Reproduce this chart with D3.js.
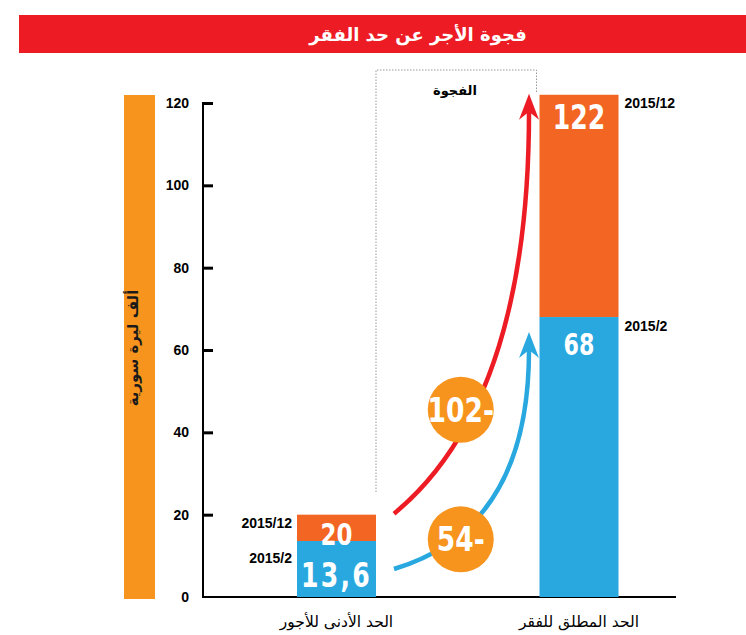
<!DOCTYPE html>
<html>
<head>
<meta charset="utf-8">
<script src="https://cdn.jsdelivr.net/npm/d3@7"></script>
<style>
  body { margin: 0; background: #fff; }
  .ar { font-family: "DejaVu Sans", sans-serif; }
  .num { font-family: "DejaVu Sans", sans-serif; font-weight: bold; }
  .lab { font-family: "Liberation Sans", Arial, sans-serif; font-weight: bold; }
</style>
</head>
<body>
<svg class="chart"></svg>
<script>
// wage gap vs poverty line, two dates

var categories = ["الحد الأدنى للأجور", "الحد المطلق للفقر"];
var feb2015 = [13.6, 68];
var dec2015 = [20, 122];
var febLabels = ["13,6", "68"];
var decLabels = ["20", "122"];
var gapLabels = ["54-", "102-"];
var dateLabels = ["2015/12", "2015/2"];
var yTicks = [0, 20, 40, 60, 80, 100, 120];

var ui = {
  width: 746,
  height: 635,
  red: "#ED1C24",
  orange: "#F26522",
  blue: "#29A8E0",
  circle: "#F7941D",
  barWidth: 79,
  squeeze: 0.74
};

var chart = d3.select(".chart")
  .attr("width", ui.width)
  .attr("height", ui.height);

var y = d3.scaleLinear().domain([0, 120]).range([597, 103]);
var x = d3.scalePoint().domain(categories).range([336.5, 579]);

// title bar
chart.append("rect")
  .attr("x", 19).attr("y", 15)
  .attr("width", ui.width - 19).attr("height", 38)
  .style("fill", ui.red);
chart.append("text")
  .attr("class", "ar")
  .attr("x", 418).attr("y", 41)
  .attr("text-anchor", "middle")
  .style("font-size", "18px").style("font-weight", "bold")
  .style("fill", "#fff")
  .text("فجوة الأجر عن حد الفقر");

// unit strip on the left
chart.append("rect")
  .attr("x", 124).attr("y", 95)
  .attr("width", 31).attr("height", y(0) + 2 - 95)
  .style("fill", ui.circle);
chart.append("text")
  .attr("class", "ar")
  .attr("transform", "translate(138,348) rotate(-90)")
  .attr("text-anchor", "middle")
  .style("font-size", "15px").style("font-weight", "bold")
  .style("fill", "#1a1a1a")
  .text("ألف ليرة سورية");

// gap box (dotted)
var gx0 = x(categories[0]) + ui.barWidth / 2;
var gx1 = x(categories[1]) - ui.barWidth / 2 - 3;
chart.append("path")
  .attr("d", "M" + gx0 + "," + 492 + "V70H" + gx1 + "V92")
  .style("fill", "none")
  .style("stroke", "#999")
  .style("stroke-width", 1)
  .style("stroke-dasharray", "1.5,1.5");
chart.append("text")
  .attr("class", "ar")
  .attr("x", 455).attr("y", 95)
  .attr("text-anchor", "middle")
  .style("font-size", "13px").style("font-weight", "bold")
  .text("الفجوة");

// axis
var axis = chart.append("g")
  .attr("transform", "translate(203,0)")
  .call(d3.axisRight(y).tickValues(yTicks).tickSize(10).tickFormat(d3.format("d")));
axis.select(".domain").remove();
axis.selectAll(".tick line").style("stroke", "#000").style("stroke-width", 3);
axis.selectAll(".tick text")
  .attr("class", "lab")
  .attr("x", -14)
  .attr("text-anchor", "end")
  .style("font-size", "14px")
  .style("fill", "#000");
axis.select(".tick:first-of-type line").remove();
chart.append("line")
  .attr("x1", 203).attr("x2", 203)
  .attr("y1", y(120) - 1).attr("y2", y(0))
  .style("stroke", "#000").style("stroke-width", 2);
chart.append("line")
  .attr("x1", 202).attr("x2", 676)
  .attr("y1", y(0)).attr("y2", y(0))
  .style("stroke", "#000").style("stroke-width", 2);

// bars
var bars = chart.selectAll(".bar")
  .data(categories)
  .enter().append("g")
  .attr("class", "bar")
  .attr("transform", function(d) { return "translate(" + (x(d) - ui.barWidth / 2) + ",0)"; });

bars.append("rect")
  .attr("y", function(d, i) { return y(dec2015[i]); })
  .attr("width", ui.barWidth)
  .attr("height", function(d, i) { return y(feb2015[i]) - y(dec2015[i]); })
  .style("fill", ui.orange);
bars.append("rect")
  .attr("y", function(d, i) { return y(feb2015[i]); })
  .attr("width", ui.barWidth)
  .attr("height", function(d, i) { return y(0) - y(feb2015[i]); })
  .style("fill", ui.blue);

// numbers inside bars (squeezed to look condensed)
bars.append("text")
  .attr("class", "num")
  .attr("transform", function(d, i) {
    var ty = i ? y(dec2015[i]) + 34 : y(dec2015[i]) + 30;
    return "translate(" + (ui.barWidth / 2) + "," + ty + ") scale(" + ui.squeeze + ",1)";
  })
  .attr("text-anchor", "middle")
  .style("font-size", function(d, i) { return i ? "34px" : "31px"; })
  .style("fill", "#fff")
  .text(function(d, i) { return decLabels[i]; });
bars.append("text")
  .attr("class", "num")
  .attr("transform", function(d, i) {
    var ty = i ? y(feb2015[i]) + 38 : y(0) - 10;
    return "translate(" + (ui.barWidth / 2) + "," + ty + ") scale(" + ui.squeeze + ",1)";
  })
  .attr("text-anchor", "middle")
  .style("font-size", function(d, i) { return i ? "30px" : "34px"; })
  .style("letter-spacing", function(d, i) { return i ? "0px" : "3px"; })
  .style("fill", "#fff")
  .text(function(d, i) { return febLabels[i]; });

// date labels: left of first bar, right of second
bars.append("text")
  .attr("class", "lab")
  .attr("x", function(d, i) { return i ? ui.barWidth + 6 : -5; })
  .attr("y", function(d, i) { return y(dec2015[i]) + 13; })
  .attr("text-anchor", function(d, i) { return i ? "start" : "end"; })
  .style("font-size", "14px")
  .text(dateLabels[0]);
bars.append("text")
  .attr("class", "lab")
  .attr("x", function(d, i) { return i ? ui.barWidth + 6 : -5; })
  .attr("y", function(d, i) { return i ? y(feb2015[i]) + 14 : y(feb2015[i]) + 22; })
  .attr("text-anchor", function(d, i) { return i ? "start" : "end"; })
  .style("font-size", "14px")
  .text(dateLabels[1]);

// category labels
bars.append("text")
  .attr("class", "ar")
  .attr("x", ui.barWidth / 2)
  .attr("y", 627)
  .attr("text-anchor", "middle")
  .style("font-size", "15.5px")
  .style("fill", "#000")
  .text(function(d) { return d; });

// curved arrows from the wage bar to the poverty bar
var x0 = x(categories[0]) + ui.barWidth / 2 + 18;
var x1 = x(categories[1]) - ui.barWidth / 2 - 10.5;
var arrows = [
  { color: ui.blue, y0: y(feb2015[0]) + 28, y1: y(feb2015[1]) + 15, k: 0.17 },
  { color: ui.red,  y0: y(dec2015[0]) - 1,  y1: y(dec2015[1]) - 1,  k: 0.265 }
];
arrows.forEach(function(a) {
  var cy = a.y0 - a.k * (a.y0 - a.y1);
  var notch = a.y1 + 18;
  chart.append("path")
    .attr("d", "M" + x0 + "," + a.y0 + "Q" + x1 + "," + cy + " " + x1 + "," + notch)
    .style("fill", "none")
    .style("stroke", a.color)
    .style("stroke-width", 4.5);
  chart.append("path")
    .attr("d", "M" + x1 + "," + a.y1 + "L" + (x1 + 10) + "," + (a.y1 + 26) +
      "L" + x1 + "," + notch + "L" + (x1 - 10) + "," + (a.y1 + 26) + "Z")
    .style("fill", a.color);
});

// gap circles
var gapAt = [14, 45.5];
var cx = (x(categories[0]) + x(categories[1])) / 2 + 3;
gapLabels.forEach(function(g, i) {
  chart.append("circle")
    .attr("cx", cx).attr("cy", y(gapAt[i]))
    .attr("r", 33)
    .style("fill", ui.circle);
  chart.append("text")
    .attr("class", "num")
    .attr("transform", "translate(" + cx + "," + (y(gapAt[i]) + 12) + ") scale(0.78,1)")
    .attr("text-anchor", "middle")
    .style("font-size", "34px")
    .style("fill", "#fff")
    .text(g);
});
</script>
</body>
</html>
